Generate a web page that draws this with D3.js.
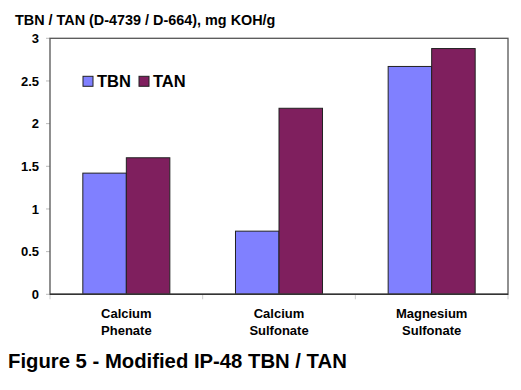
<!DOCTYPE html>
<html><head><meta charset="utf-8">
<script src="https://cdn.jsdelivr.net/npm/d3@7"></script>
<style>body{margin:0;background:#fff}svg{display:block;font-family:Arial,"Liberation Sans",sans-serif;font-weight:bold}</style>
</head><body>
<script>
const categories = [["Calcium","Phenate"],["Calcium","Sulfonate"],["Magnesium","Sulfonate"]];
const seriesNames = ["TBN","TAN"];
const tbnValues = [1.42, 0.74, 2.67];
const tanValues = [1.60, 2.18, 2.88];
const yTicks = [0, 0.5, 1, 1.5, 2, 2.5, 3];
const colors = ["#8080FF", "#7F1F5E"];
const yTitle = "TBN / TAN (D-4739 / D-664), mg KOH/g";
const caption = "Figure 5 - Modified IP-48 TBN / TAN";

const W = 521, H = 390;
const m = {left: 50, right: 13, top: 38.3, bottom: 95.7};
const svg = d3.select("body").append("svg").attr("width", W).attr("height", H);
const iw = W - m.left - m.right, ih = H - m.top - m.bottom;
const g = svg.append("g").attr("transform", `translate(${m.left},${m.top})`);

const x0 = d3.scaleBand().domain(d3.range(categories.length)).range([0, iw]).paddingInner(0).paddingOuter(0);
const x1 = d3.scaleBand().domain(seriesNames).range([x0.bandwidth()*0.215, x0.bandwidth()*0.785]);
const y = d3.scaleLinear().domain([0, 3]).range([ih, 0]);

// y ticks
g.selectAll(".yt").data(yTicks).join("line")
  .attr("x1", -4).attr("x2", 0).attr("y1", d => y(d)).attr("y2", d => y(d))
  .attr("stroke", "#bbb").attr("stroke-width", 1);
g.selectAll(".yl").data(yTicks).join("text")
  .attr("x", -11).attr("y", d => y(d)).attr("dy", "0.35em")
  .attr("text-anchor", "end").attr("font-size", 13).text(d => d);

// x ticks at band boundaries
const bounds = d3.range(categories.length + 1).map(i => i * x0.step());
g.selectAll(".xt").data(bounds).join("line")
  .attr("x1", d => d).attr("x2", d => d).attr("y1", ih).attr("y2", ih + 5)
  .attr("stroke", "#ccc").attr("stroke-width", 1);

// bars
const data = categories.map((c, i) => ({i, vals: [tbnValues[i], tanValues[i]]}));
const grp = g.selectAll(".cat").data(data).join("g").attr("transform", d => `translate(${x0(d.i)},0)`);
grp.selectAll("rect").data(d => d.vals.map((v, k) => ({k, v}))).join("rect")
  .attr("x", d => x1(seriesNames[d.k])).attr("width", x1.bandwidth())
  .attr("y", d => y(d.v)).attr("height", d => ih - y(d.v))
  .attr("fill", d => colors[d.k]).attr("stroke", "#222").attr("stroke-width", 1);

// frame
g.append("rect").attr("x", 0).attr("y", 0).attr("width", iw).attr("height", ih)
  .attr("fill", "none").attr("stroke", "#555").attr("stroke-width", 1.3);
g.append("line").attr("x1", 0).attr("x2", iw).attr("y1", ih).attr("y2", ih)
  .attr("stroke", "#333").attr("stroke-width", 1.5);

// x labels
const xl = g.selectAll(".xl").data(categories).join("text")
  .attr("text-anchor", "middle").attr("font-size", 13)
  .attr("transform", (d, i) => `translate(${x0(i) + x0.bandwidth()/2},${ih + 24})`);
xl.selectAll("tspan").data(d => d).join("tspan").attr("x", 0).attr("dy", (d, k) => k ? 16.5 : 0).text(d => d);

// legend
const lg = g.append("g").attr("transform", "translate(33,38)");
const items = [{n: seriesNames[0], x: 0}, {n: seriesNames[1], x: 56}];
items.forEach((it, k) => {
  lg.append("rect").attr("x", it.x).attr("y", 0).attr("width", 10).attr("height", 10)
    .attr("fill", colors[k]).attr("stroke", "#222").attr("stroke-width", 1);
  lg.append("text").attr("x", it.x + 14).attr("y", 11).attr("font-size", 16.5).text(it.n);
});

// titles
svg.append("text").attr("x", 15).attr("y", 25).attr("font-size", 14.4).text(yTitle);
svg.append("text").attr("x", 8).attr("y", 368).attr("font-size", 20.3).text(caption);
</script>
</body></html>
